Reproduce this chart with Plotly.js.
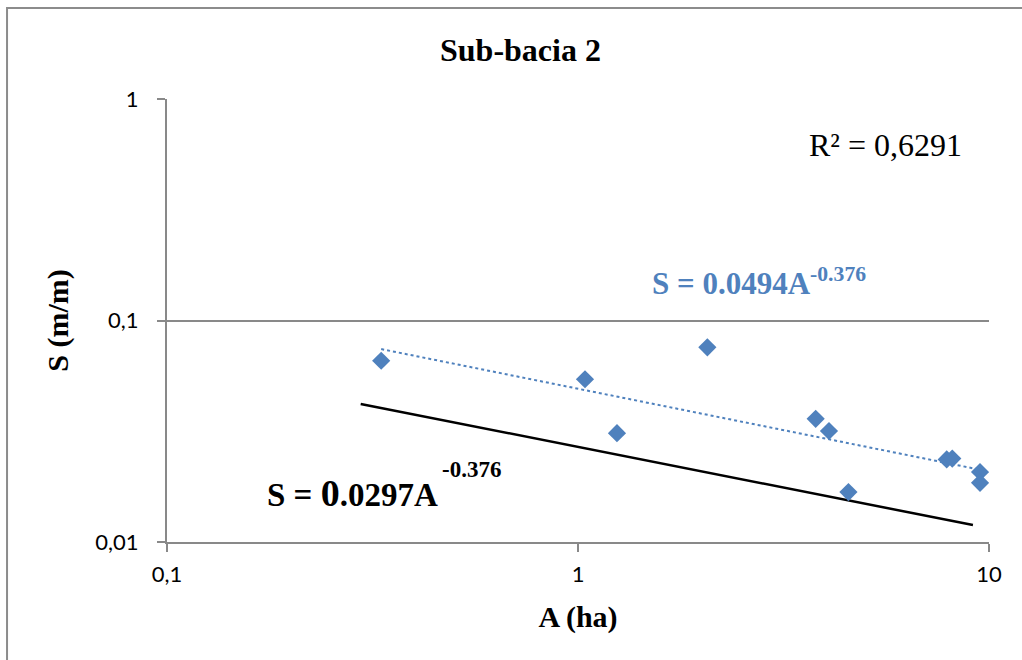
<!DOCTYPE html>
<html>
<head>
<meta charset="utf-8">
<script src="https://cdn.plot.ly/plotly-3.0.1.min.js"></script>
<style>
html,body{margin:0;padding:0;background:#fff;}
#chart{width:1022px;height:660px;}
</style>
</head>
<body>
<div id="chart"></div>
<script>
// Observed data: A (ha) vs S (m/m)
var areaHa = [0.332, 1.040, 1.244, 2.064, 3.787, 4.08, 4.55, 7.89, 8.14, 9.51, 9.51];
var slope  = [0.0658, 0.0543, 0.0310, 0.0757, 0.0360, 0.0317, 0.0168, 0.0236, 0.0238, 0.0207, 0.0185];

// Power trendline endpoints (S = 0.0494A^-0.376)
var trendA = [0.332, 9.51];
var trendS = [0.0743, 0.0212];

// Black reference line endpoints (S = 0.0297A^-0.376)
var refA = [0.296, 9.14];
var refS = [0.0420, 0.01193];

var xTickVals = [0.1, 1, 10];
var xTickText = ['0,1', '1', '10'];
var yTickVals = [0.01, 0.1, 1];
var yTickText = ['0,01', '0,1', '1'];

var blue = '#4F81BD';
var axisGray = '#898989';
var serif = '"Liberation Serif", "Times New Roman", serif';
var sans = 'Lato, sans-serif';

var traces = [
  {x: refA, y: refS, mode: 'lines', type: 'scatter',
   line: {color: '#000000', width: 2.5}, hoverinfo: 'skip', showlegend: false},
  {x: trendA, y: trendS, mode: 'lines', type: 'scatter',
   line: {color: blue, width: 2, dash: 'dot'}, hoverinfo: 'skip', showlegend: false},
  {x: areaHa, y: slope, mode: 'markers', type: 'scatter',
   marker: {symbol: 'diamond', size: 14, color: blue}, showlegend: false}
];

var layout = {
  width: 1022, height: 660,
  margin: {l: 167, r: 33, t: 99, b: 118},
  paper_bgcolor: '#ffffff', plot_bgcolor: '#ffffff',
  showlegend: false,
  title: {text: '<b>Sub-bacia 2</b>', font: {family: serif, size: 32, color: '#000'},
          xref: 'paper', x: 0.43, xanchor: 'center', yref: 'container', y: 0.924, yanchor: 'middle'},
  xaxis: {type: 'log', range: [-1, 1], tickvals: xTickVals, ticktext: xTickText,
          showgrid: false, zeroline: false, showline: true, linecolor: axisGray, linewidth: 2,
          ticks: 'outside', ticklen: 8, tickcolor: axisGray, tickwidth: 2, ticklabelstandoff: 4,
          tickfont: {family: sans, size: 22, color: '#000'},
          title: {text: '<b>A (ha)</b>', font: {family: serif, size: 30, color: '#000'}, standoff: 20}},
  yaxis: {type: 'log', range: [-2, 0], tickvals: yTickVals, ticktext: yTickText,
          showgrid: true, gridcolor: axisGray, gridwidth: 2, zeroline: false,
          showline: true, linecolor: axisGray, linewidth: 2,
          ticks: 'outside', ticklen: 8, tickcolor: axisGray, tickwidth: 2, ticklabelstandoff: 14,
          tickfont: {family: sans, size: 22, color: '#000'},
          title: {text: '<b>S (m/m)</b>', font: {family: serif, size: 30, color: '#000'}, standoff: 18}},
  shapes: [
    {type: 'rect', xref: 'paper', yref: 'paper', x0: -0.1946, x1: 1.2, y0: -0.3, y1: 1.2054,
     line: {color: '#8c8c8c', width: 2}, fillcolor: 'rgba(0,0,0,0)', layer: 'below'}
  ],
  annotations: [
    {xref: 'paper', yref: 'paper', x: 0.779, y: 0.896, xanchor: 'left', yanchor: 'middle',
     text: 'R² = 0,6291', showarrow: false, font: {family: serif, size: 32, color: '#000'}},
    {xref: 'paper', yref: 'paper', x: 0.588, y: 0.588, xanchor: 'left', yanchor: 'middle',
     text: '<b>S = 0.0494A<sup>-0.376</sup></b>', showarrow: false,
     font: {family: serif, size: 31, color: blue}},
    {xref: 'paper', yref: 'paper', x: 0.119, y: 0.110, xanchor: 'left', yanchor: 'middle',
     text: '<b>S = <span style="font-size:38px">0</span>.0297A</b>', showarrow: false,
     font: {family: serif, size: 33, color: '#000'}},
    {xref: 'paper', yref: 'paper', x: 0.332, y: 0.163, xanchor: 'left', yanchor: 'middle',
     text: '<b>-0.376</b>', showarrow: false,
     font: {family: serif, size: 23, color: '#000'}}
  ]
};

Plotly.newPlot('chart', traces, layout, {displayModeBar: false, staticPlot: true});
</script>
</body>
</html>
